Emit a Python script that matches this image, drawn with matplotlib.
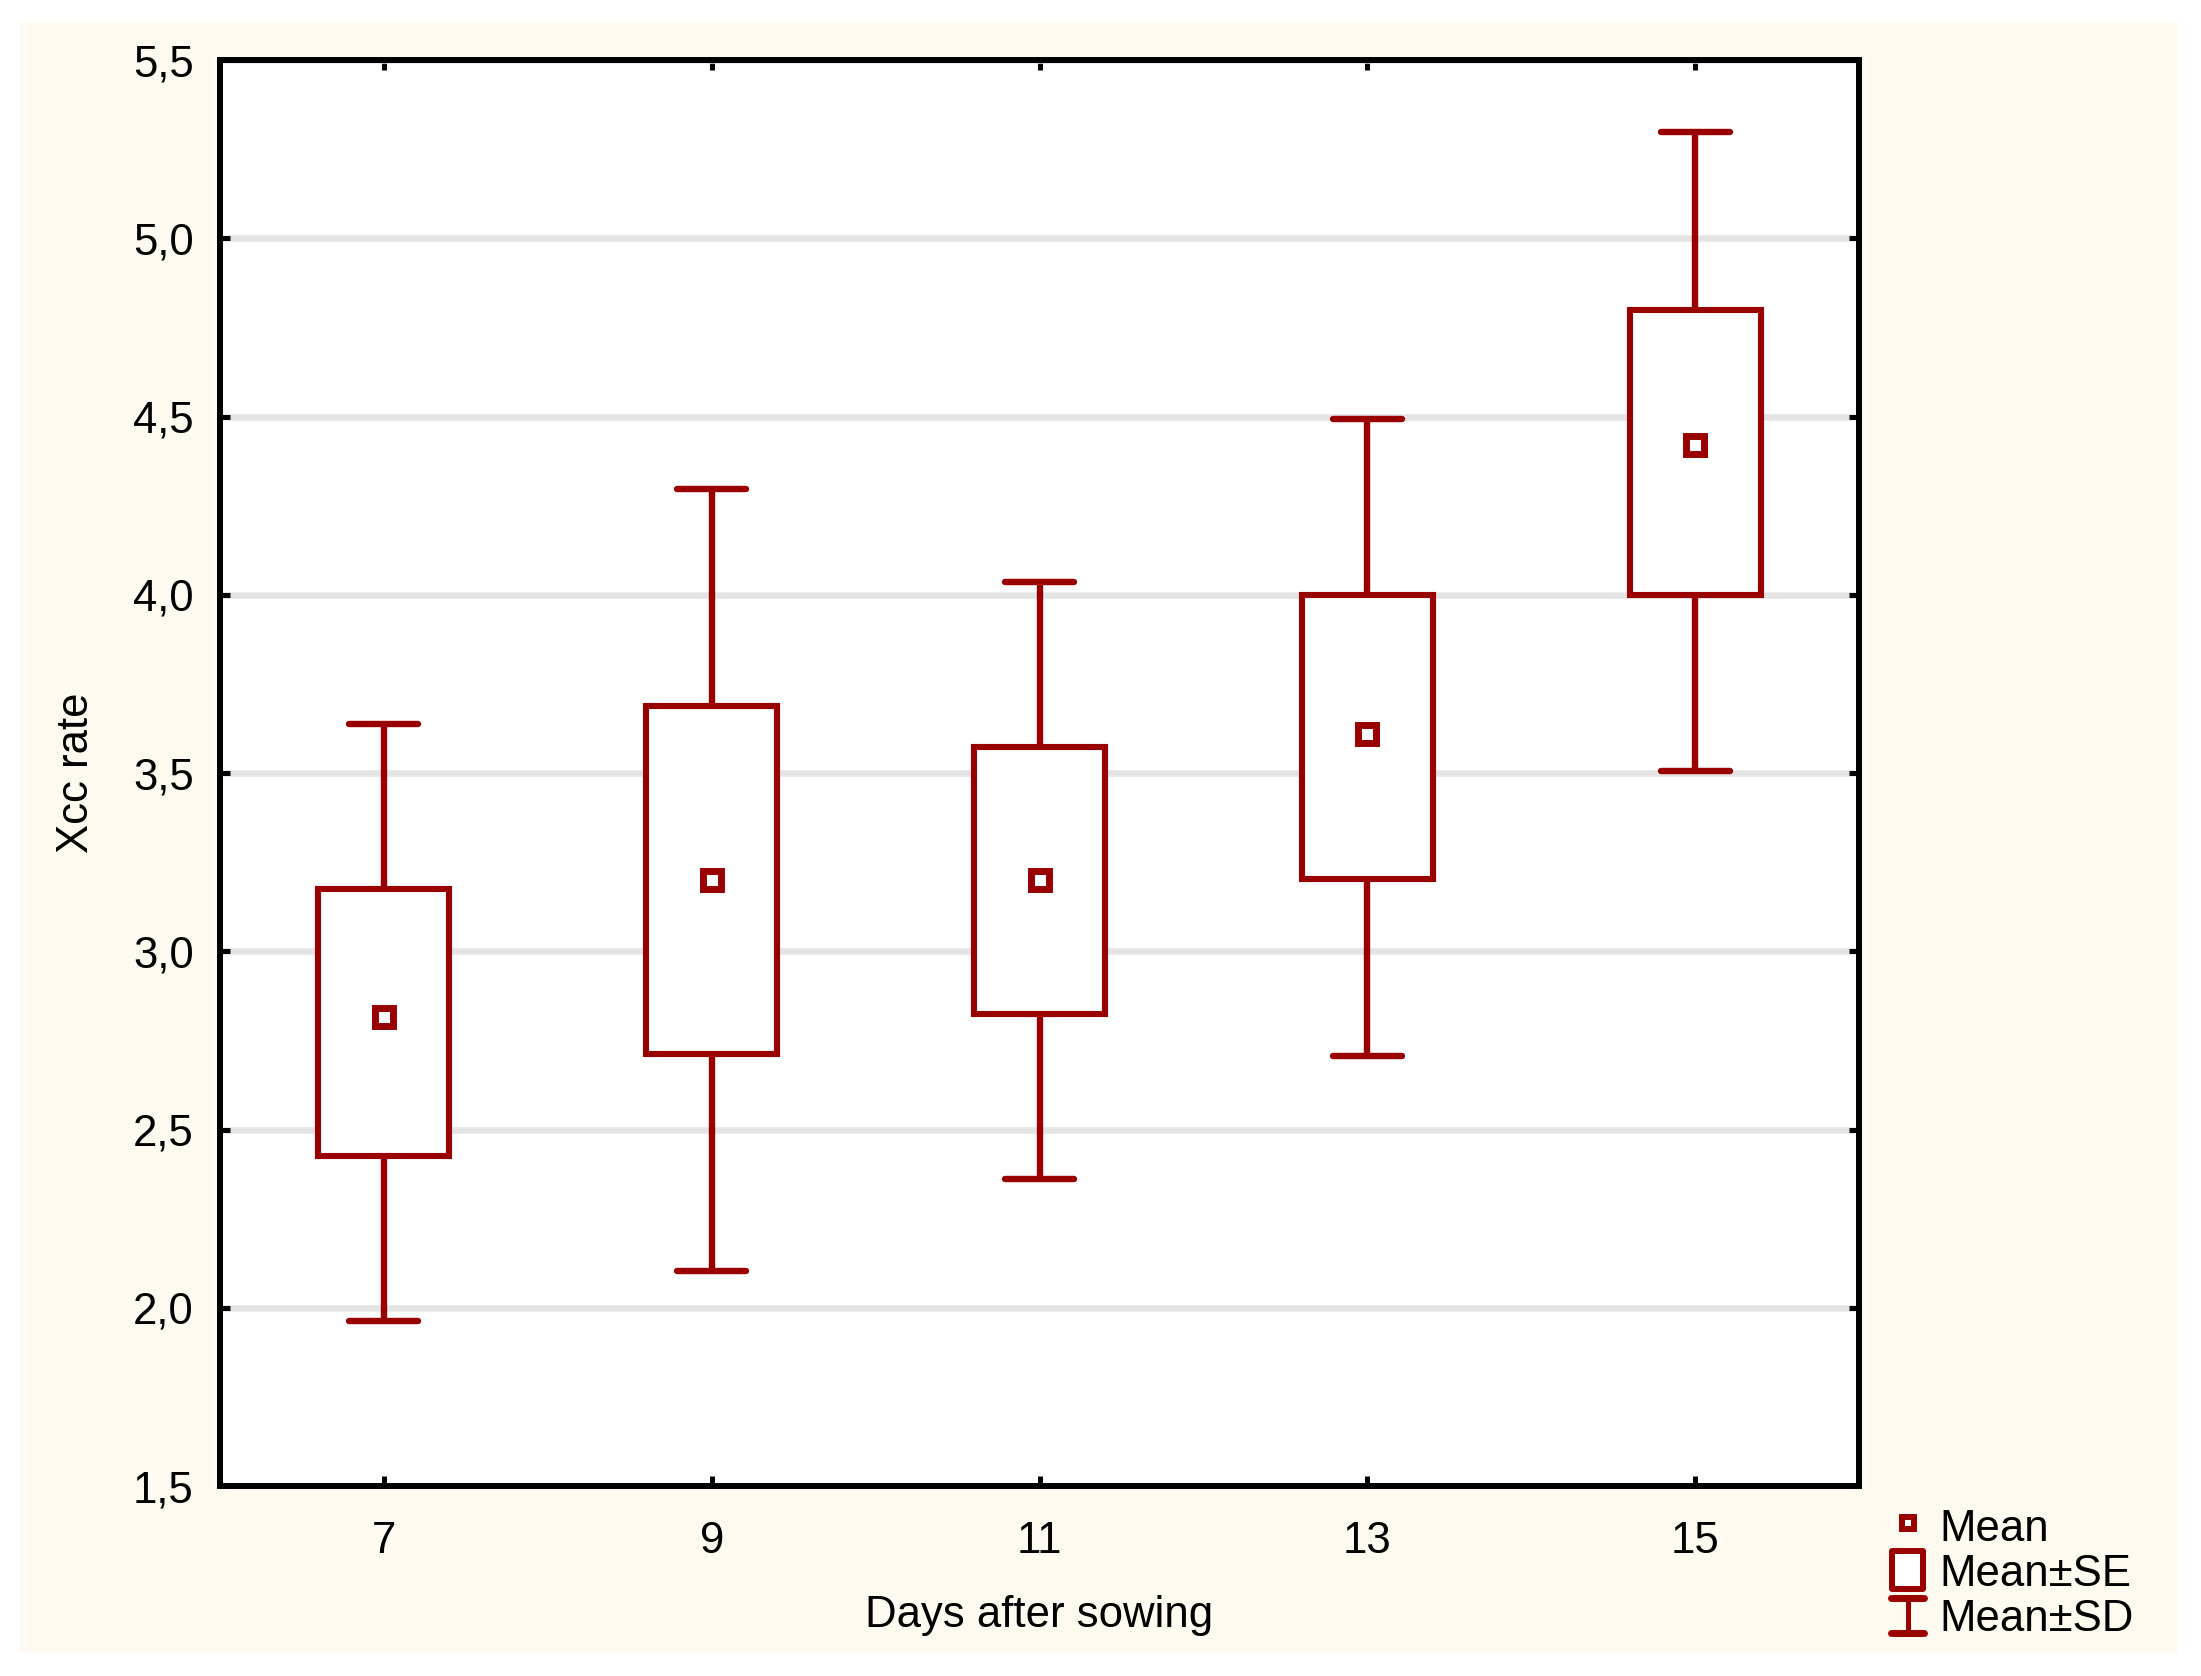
import matplotlib
matplotlib.use('Agg')
import matplotlib.pyplot as plt
from matplotlib.patches import Rectangle
from matplotlib.lines import Line2D

plt.rcParams['font.family'] = ['Liberation Sans', 'DejaVu Sans']

# ---- data ----
days = ['7', '9', '11', '13', '15']
mean = [2.815, 3.20, 3.20, 3.61, 4.42]
se_lower = [2.426, 2.711, 2.823, 3.202, 4.000]
se_upper = [3.174, 3.687, 3.574, 4.000, 4.800]
sd_lower = [1.962, 2.103, 2.362, 2.707, 3.505]
sd_upper = [3.637, 4.296, 4.037, 4.494, 5.297]
yticks = [1.5, 2.0, 2.5, 3.0, 3.5, 4.0, 4.5, 5.0, 5.5]
ytick_labels = ['1,5', '2,0', '2,5', '3,0', '3,5', '4,0', '4,5', '5,0', '5,5']
x_label = 'Days after sowing'
y_label = 'Xcc rate'
legend_labels = ['Mean', 'Mean±SE', 'Mean±SD']

RED = '#990000'
CREAM = '#fefaf0'
W, H = 2201, 1676
FS = 31.5

fig = plt.figure(figsize=(W / 100, H / 100), dpi=100, facecolor='white')
# cream panel background
fig.add_artist(Rectangle((20 / W, 1 - 1652 / H), (2178 - 20) / W, (1652 - 22) / H,
                         transform=fig.transFigure, facecolor=CREAM,
                         edgecolor='none', zorder=-5))

ax = fig.add_axes([220 / W, 1 - 1486 / H, 1639 / W, 1426 / H])
ax.set_facecolor('white')

xpos = list(range(len(days)))
box_w = 0.40
cap_half = 0.105

# whiskers (Mean±SD)
ax.vlines(xpos, se_upper, sd_upper, color=RED, lw=4.6, zorder=3)
ax.vlines(xpos, sd_lower, se_lower, color=RED, lw=4.6, zorder=3)
ax.hlines(sd_upper, [x - cap_half for x in xpos], [x + cap_half for x in xpos],
          color=RED, lw=4.6, zorder=3, capstyle='round')
ax.hlines(sd_lower, [x - cap_half for x in xpos], [x + cap_half for x in xpos],
          color=RED, lw=4.6, zorder=3, capstyle='round')

# boxes (Mean±SE)
ax.bar(xpos, [u - l for u, l in zip(se_upper, se_lower)], bottom=se_lower,
       width=box_w, facecolor='white', edgecolor=RED, linewidth=4.4, zorder=4)

# mean markers
ax.plot(xpos, mean, linestyle='none', marker='s', ms=12.8, mew=5.0,
        mec=RED, mfc='white', zorder=5)

ax.set_xlim(-0.5, len(days) - 0.5)
ax.set_ylim(1.5, 5.5)
ax.set_xticks(xpos)
ax.set_xticklabels(days)
ax.set_yticks(yticks)
ax.set_yticklabels(ytick_labels)
ax.tick_params(which='both', direction='in', length=7, width=3.6, color='black',
               top=True, right=True, labelsize=FS)
ax.tick_params(axis='y', pad=19)
ax.tick_params(axis='x', pad=25)

ax.set_axisbelow(True)
ax.yaxis.grid(True, color='#e4e4e4', lw=4.7)
ax.xaxis.grid(False)

for sp in ax.spines.values():
    sp.set_linewidth(4.3)
    sp.set_color('black')
    sp.set_capstyle('projecting')
    sp.set_zorder(6)

ax.set_xlabel(x_label, fontsize=FS)
ax.set_ylabel(y_label, fontsize=FS)
ax.xaxis.set_label_coords(0.5, (1486 - 1615) / 1426)
ax.xaxis.label.set_verticalalignment('center')
ax.yaxis.set_label_coords((77 - 220) / 1639, 0.5)
ax.yaxis.label.set_verticalalignment('center')

# ---- legend drawn in a pixel-coordinate inset ----
lx0, lx1, ly0, ly1 = 1870, 2180, 1495, 1650
lg = fig.add_axes([lx0 / W, 1 - ly1 / H, (lx1 - lx0) / W, (ly1 - ly0) / H])
lg.set_xlim(lx0, lx1)
lg.set_ylim(ly1, ly0)
lg.axis('off')
lg.patch.set_alpha(0)

lg.plot([1908], [1523], linestyle='none', marker='s', ms=8.6, mew=4.3,
        mec=RED, mfc='white')
lg.add_patch(Rectangle((1892, 1551), 31, 38, facecolor='white', edgecolor=RED,
                       linewidth=4.3, joinstyle='round'))
lg.add_line(Line2D([1908, 1908], [1597, 1632], color=RED, lw=3.6))
lg.add_line(Line2D([1891, 1924], [1597.5, 1597.5], color=RED, lw=5.0,
                   solid_capstyle='round'))
lg.add_line(Line2D([1891, 1924], [1632.5, 1632.5], color=RED, lw=5.0,
                   solid_capstyle='round'))
for txt, yb in zip(legend_labels, [1541, 1586, 1631]):
    lg.text(1939, yb, txt, fontsize=FS, va='baseline', ha='left', color='black')

fig.savefig('out.png', dpi=100, facecolor='white')
